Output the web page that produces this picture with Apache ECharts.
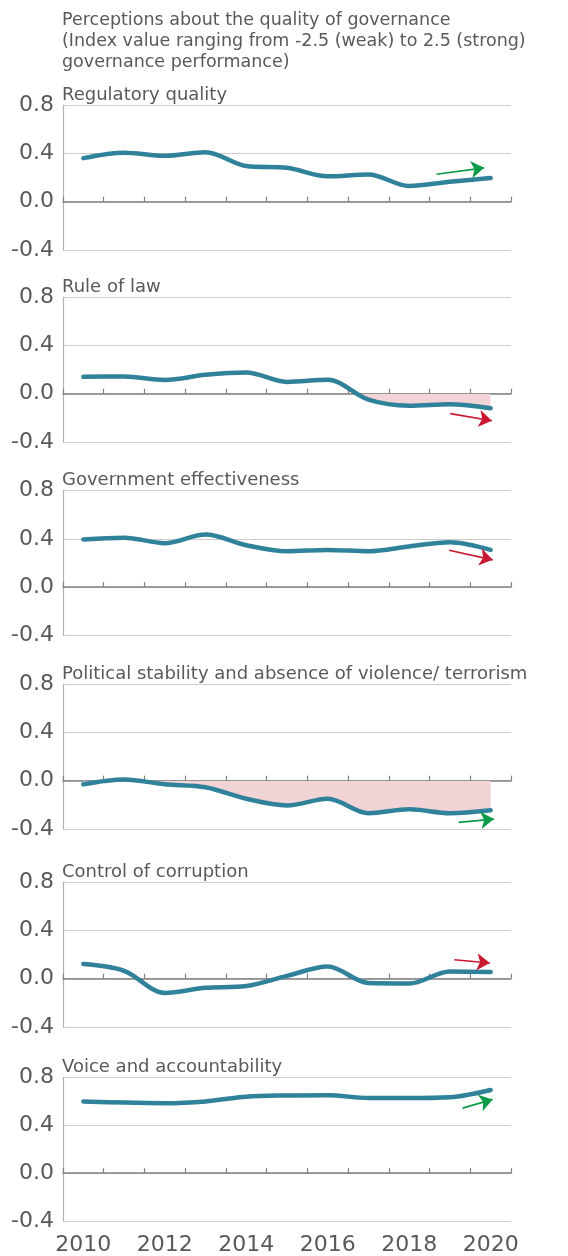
<!DOCTYPE html>
<html>
<head>
<meta charset="utf-8">
<script src="https://cdn.jsdelivr.net/npm/echarts@6/dist/echarts.min.js"></script>
<style>
  html, body { margin: 0; padding: 0; background: #ffffff; }
  #chart { width: 568px; height: 1256px; }
</style>
</head>
<body>
<div id="chart"></div>
<script>
// ---- data ----
const years = ['2010', '2011', '2012', '2013', '2014', '2015', '2016', '2017', '2018', '2019', '2020'];
const chartTitle = 'Perceptions about the quality of governance\n(Index value ranging from -2.5 (weak) to 2.5 (strong)\ngovernance performance)';
const panelTitles = [
  'Regulatory quality',
  'Rule of law',
  'Government effectiveness',
  'Political stability and absence of violence/ terrorism',
  'Control of corruption',
  'Voice and accountability'
];
const regulatoryQuality   = [0.36, 0.405, 0.38, 0.41, 0.295, 0.28, 0.21, 0.225, 0.13, 0.165, 0.195];
const ruleOfLaw           = [0.139, 0.142, 0.114, 0.156, 0.175, 0.097, 0.115, -0.05, -0.10, -0.088, -0.12];
const govEffectiveness    = [0.395, 0.41, 0.364, 0.435, 0.347, 0.297, 0.308, 0.297, 0.337, 0.372, 0.308];
const politicalStability  = [-0.03, 0.01, -0.03, -0.055, -0.15, -0.205, -0.15, -0.27, -0.237, -0.27, -0.245];
const controlOfCorruption = [0.121, 0.065, -0.118, -0.076, -0.061, 0.023, 0.10, -0.036, -0.04, 0.06, 0.055];
const voiceAccountability = [0.60, 0.59, 0.585, 0.60, 0.64, 0.65, 0.652, 0.628, 0.628, 0.635, 0.696];
const yTicks = [-0.4, 0.0, 0.4, 0.8];
const shadedNegative = [false, true, false, true, false, false];
// trend arrows (in category-index / index-value units)
const trendDirection = ['up', 'down', 'down', 'up', 'down', 'up'];
const trendArrowFrom = [[8.67, 0.227], [9.01, -0.165], [8.98, 0.306], [9.21, -0.345], [9.11, 0.157], [9.31, 0.544]];
const trendArrowTo   = [[9.84, 0.280], [10.03, -0.224], [10.05, 0.226], [10.08, -0.318], [9.98, 0.130], [10.05, 0.617]];

const panelSeries = [regulatoryQuality, ruleOfLaw, govEffectiveness, politicalStability, controlOfCorruption, voiceAccountability];

// ---- layout / style ----
const FONT = 'DejaVu Sans';
const TEXT = '#595959';
const LINE = '#2f8299';
const PINK = '#f2d3d6';
const GREEN = '#0a9a48';
const RED = '#c8182f';
const gridTops = [105, 297, 490.5, 684, 882, 1077.5];
const gridH = 145;
const yMin = yTicks[0], yMax = yTicks[yTicks.length - 1];

const grids = [], xAxes = [], yAxes = [], series = [], titles = [];

titles.push({
  text: chartTitle, left: 62, top: 10, padding: 0,
  textStyle: { fontFamily: FONT, fontSize: 17.5, fontWeight: 'normal', color: TEXT, lineHeight: 21 }
});

panelSeries.forEach((vals, i) => {
  grids.push({ left: 63, right: 57, top: gridTops[i], height: gridH, containLabel: false });
  titles.push({
    text: panelTitles[i], left: 62, top: gridTops[i] - 19, padding: 0,
    textStyle: { fontFamily: FONT, fontSize: 18, fontWeight: 'normal', color: TEXT }
  });
  xAxes.push({
    type: 'category', gridIndex: i, data: years, boundaryGap: true,
    axisLine: { onZero: true, lineStyle: { color: '#808080', width: 1.5 } },
    axisTick: { show: true, inside: true, length: 5, interval: 0, lineStyle: { color: '#808080', width: 1.2 } },
    axisLabel: { show: false }, splitLine: { show: false }
  });
  yAxes.push({
    type: 'value', gridIndex: i, min: yMin, max: yMax, interval: 0.4,
    axisLine: { show: true, onZero: false, lineStyle: { color: '#b3b3b3', width: 1.2 } },
    axisTick: { show: false },
    axisLabel: { fontFamily: FONT, fontSize: 22, color: TEXT, margin: 9, formatter: v => v.toFixed(1) },
    splitLine: { show: true, lineStyle: { color: '#cccccc', width: 1.2 } }
  });
});

// year labels under the last panel
xAxes.push({
  type: 'category', gridIndex: 5, data: years, boundaryGap: true, position: 'bottom',
  axisLine: { show: false, onZero: false }, axisTick: { show: false },
  axisLabel: { show: true, interval: 1, fontFamily: FONT, fontSize: 22, color: TEXT, margin: 13 },
  splitLine: { show: false }
});
const labelAxisCount = xAxes.length;
// hidden continuous axes for the trend arrows
panelSeries.forEach((vals, i) => {
  xAxes.push({ type: 'value', gridIndex: i, min: -0.5, max: 10.5, show: false,
               axisLine: { onZero: false }, splitLine: { show: false } });
});

panelSeries.forEach((vals, i) => {
  const s = {
    type: 'line', name: panelTitles[i], xAxisIndex: i, yAxisIndex: i, data: vals,
    smooth: 0.33, showSymbol: false, symbol: 'none',
    lineStyle: { color: LINE, width: 4.5, cap: 'round', join: 'round' },
    z: 3
  };
  if (shadedNegative[i]) {
    // pink fill only on the part of the band below zero
    const top = gridTops[i], bottom = gridTops[i] + gridH;
    const zeroFrac = (yMax - 0) / (yMax - yMin);
    s.areaStyle = {
      opacity: 1, origin: 0,
      color: new echarts.graphic.LinearGradient(0, top, 0, bottom, [
        { offset: 0, color: 'rgba(255,255,255,0)' },
        { offset: zeroFrac, color: 'rgba(255,255,255,0)' },
        { offset: zeroFrac, color: PINK },
        { offset: 1, color: PINK }
      ], true)
    };
  }
  series.push(s);
});

panelSeries.forEach((vals, i) => {
  const color = trendDirection[i] === 'up' ? GREEN : RED;
  series.push({
    type: 'lines', coordinateSystem: 'cartesian2d',
    xAxisIndex: labelAxisCount + i, yAxisIndex: i,
    symbol: ['none', 'arrow'], symbolSize: 13,
    lineStyle: { color: color, width: 1.6, curveness: 0, opacity: 1 },
    data: [{ coords: [trendArrowFrom[i], trendArrowTo[i]] }],
    z: 4, silent: true
  });
});

const chart = echarts.init(document.getElementById('chart'), null, { renderer: 'canvas' });
chart.setOption({
  animation: false,
  backgroundColor: '#ffffff',
  title: titles,
  grid: grids,
  xAxis: xAxes,
  yAxis: yAxes,
  series: series
});
</script>
</body>
</html>
